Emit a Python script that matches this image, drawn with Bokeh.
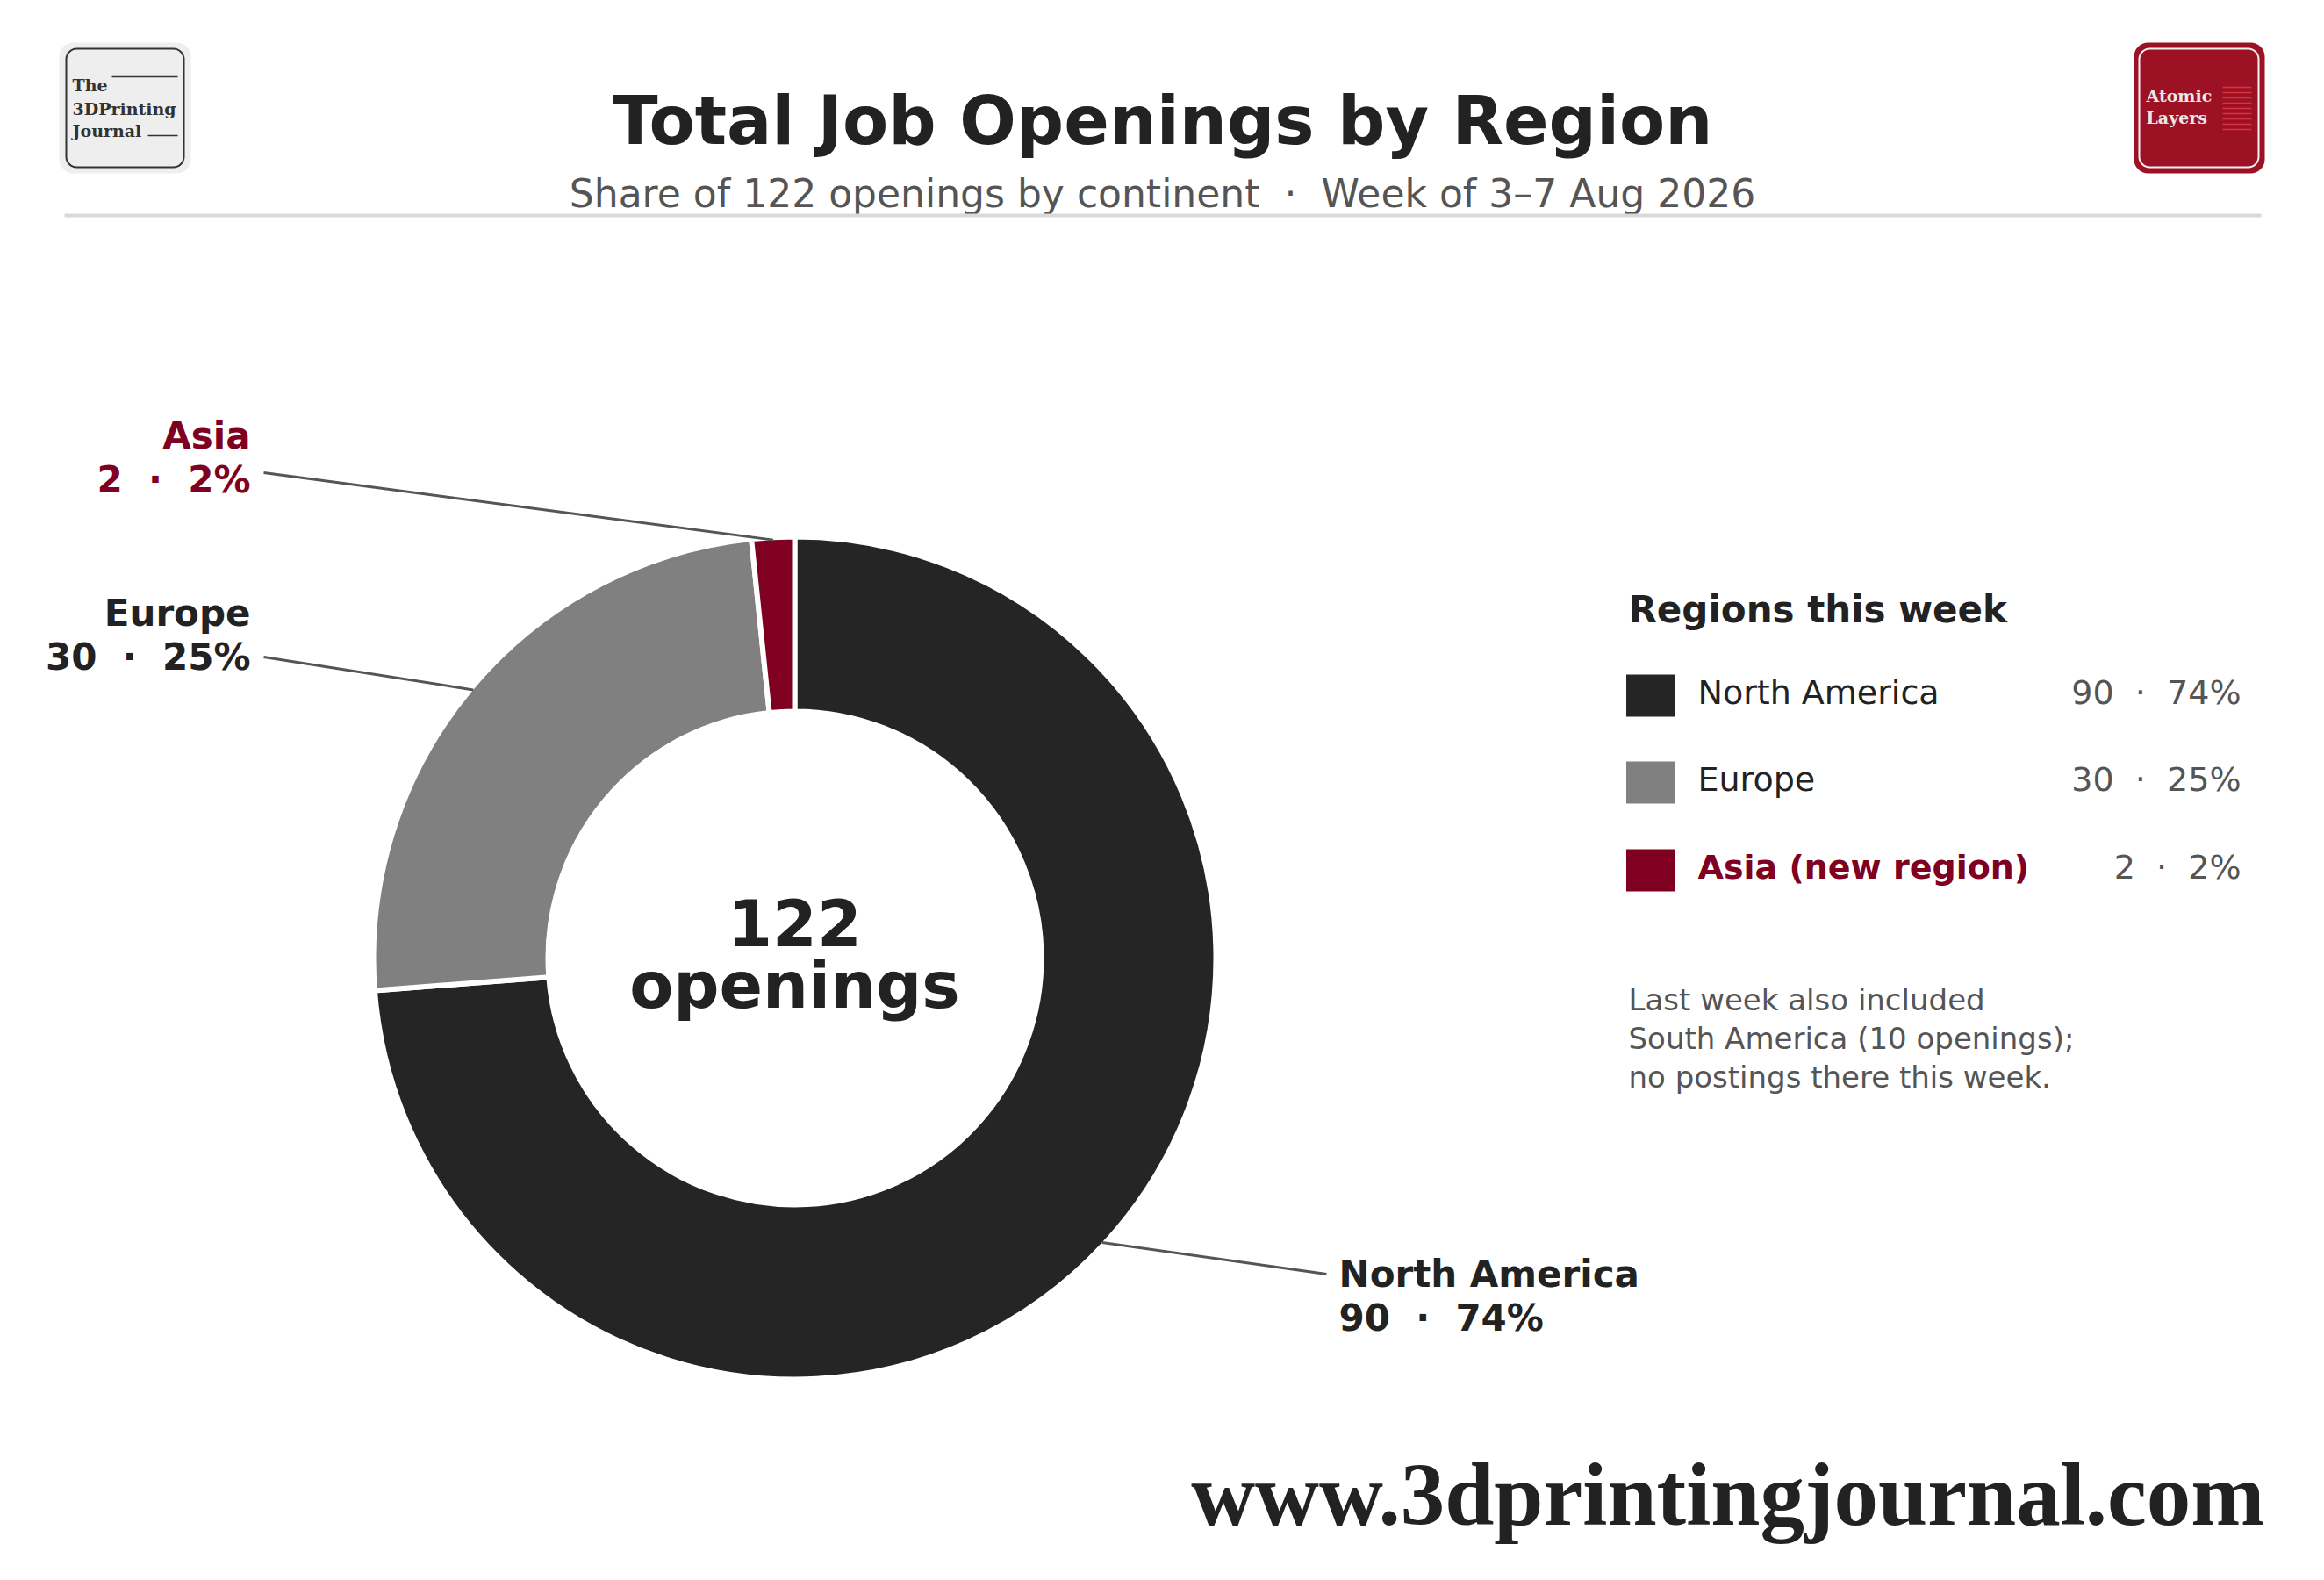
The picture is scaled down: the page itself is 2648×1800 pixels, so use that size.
import math

from bokeh.plotting import figure
from bokeh.models import Range1d, ColumnDataSource
from bokeh.core.properties import value
from bokeh.embed import file_html
from bokeh.resources import INLINE

# data
regions = ["North America", "Europe", "Asia"]
openings = [90, 30, 2]
legend_names = ["North America", "Europe", "Asia (new region)"]
region_colors = ["#252525", "#808080", "#7f0020"]

title_text = "Total Job Openings by Region"
subtitle_text = "Share of 122 openings by continent \u00a0·\u00a0 Week of 3–7 Aug 2026"
legend_title = "Regions this week"
note_lines = ["Last week also included",
              "South America (10 openings);",
              "no postings there this week."]
site_url = "www.3dprintingjournal.com"

# layout (page pixels, y grows downward)
W, H = 2632, 1784
CX, CY = 905, 1091
R_OUT, R_IN = 480, 281
label_anchor = {"North America": (1511, 1451), "Europe": (300, 748), "Asia": (300, 538)}

SANS = value("DejaVu Sans")
SERIF = value("DejaVu Serif")
NBSP2 = "\u00a0\u00a0"


def Y(py):
    return -py


def TY(baseline, size, k=0.35):
    # text is placed lower than the given alphabetic baseline, pull it back up
    return -(baseline - k * size)


p = figure(width=W, height=H, x_range=Range1d(0, W), y_range=Range1d(-H, 0),
           output_backend="svg", toolbar_location=None,
           x_axis_location=None, y_axis_location=None, min_border=0)
p.outline_line_color = None
p.grid.visible = False
p.background_fill_color = "white"
p.border_fill_color = "white"


def label(x, y, text, size, color="#222222", bold=False, align="left", font=SANS, k=0.35):
    p.text(x=[x], y=[TY(y, size, k)], text=[text], text_align=align, text_baseline="alphabetic",
           text_font=font, text_font_style="bold" if bold else "normal",
           text_font_size=value(f"{size}px"), text_color=color)


# header
label(1324, 164, title_text, 76, bold=True, align="center")
label(1324, 235, subtitle_text, 44, color="#555555", align="center")
p.segment(x0=[73], y0=[Y(245)], x1=[2576], y1=[Y(245)], line_color="#d9d9d9", line_width=4)

# left logo
p.quad(left=[67], right=[217], top=[Y(48)], bottom=[Y(197)], fill_color="#eeeeee",
       line_color=None, border_radius=16)
p.quad(left=[75], right=[209], top=[Y(55)], bottom=[Y(190)], fill_color=None,
       line_color="#333333", line_width=2, border_radius=12)
for txt, by in zip(["The", "3DPrinting", "Journal"], [103, 130, 155]):
    label(82, by, txt, 19, color="#333333", bold=True, font=SERIF)
p.segment(x0=[127, 168], y0=[Y(87), Y(154)], x1=[202, 202], y1=[Y(87), Y(154)],
          line_color="#333333", line_width=1.5)

# right logo
p.quad(left=[2431], right=[2580], top=[Y(48)], bottom=[Y(197)], fill_color="#9c1224",
       line_color=None, border_radius=16)
p.quad(left=[2437], right=[2573], top=[Y(55)], bottom=[Y(190)], fill_color=None,
       line_color="#f2f2f2", line_width=2, border_radius=12)
for txt, by in zip(["Atomic", "Layers"], [115, 140]):
    label(2445, by, txt, 19, color="#e8e8e8", bold=True, font=SERIF)
bar_y = [99 + 6 * k for k in range(9)]
p.segment(x0=[2532] * 9, y0=[Y(v) for v in bar_y], x1=[2565] * 9, y1=[Y(v) for v in bar_y],
          line_color="#d8333f", line_width=1.5)

# donut
total = sum(openings)
cum = [sum(openings[:i]) for i in range(len(openings) + 1)]
start_cw = [cum[i] / total * 2 * math.pi for i in range(len(openings))]
end_cw = [cum[i + 1] / total * 2 * math.pi for i in range(len(openings))]
src = ColumnDataSource(dict(
    start=[math.pi / 2 - e for e in end_cw],
    end=[math.pi / 2 - s for s in start_cw],
    color=region_colors,
))
p.annular_wedge(x=CX, y=Y(CY), inner_radius=R_IN, outer_radius=R_OUT,
                start_angle="start", end_angle="end", direction="anticlock",
                fill_color="color", line_color="white", line_width=6, source=src)

label(CX, 1076, str(total), 73, bold=True, align="center")
label(CX, 1148, "openings", 73, bold=True, align="center")

# callouts
pcts = [round(v / total * 100) for v in openings]
for name, v, pc, a0, a1 in zip(regions, openings, pcts, start_cw, end_cw):
    mid = (a0 + a1) / 2
    sx = CX + (R_OUT - 3) * math.sin(mid)
    sy = CY - (R_OUT - 3) * math.cos(mid)
    ax, ay = label_anchor[name]
    p.segment(x0=[sx], y0=[Y(sy)], x1=[ax], y1=[Y(ay)], line_color="#555555", line_width=3)
    txt_col = "#7f0020" if name == "Asia" else "#222222"
    if ax > CX:
        tx, align, b1 = ax + 14, "left", ay + 15
    else:
        tx, align, b1 = ax - 15, "right", ay - 27 if name == "Asia" else ay - 35
    label(tx, b1, name, 42, color=txt_col, bold=True, align=align)
    label(tx, b1 + 50, f"{v}{NBSP2}·{NBSP2}{pc}%", 42, color=txt_col, bold=True, align=align)

# legend
label(1855, 709, legend_title, 42, bold=True)
row_mid = [792, 891, 991]
p.rect(x=[1880] * 3, y=[Y(r) for r in row_mid], width=55, height=48,
       fill_color=region_colors, line_color=None)
for nm, v, pc, rm in zip(legend_names, openings, pcts, row_mid):
    is_new = nm.startswith("Asia")
    label(1934, rm + 10, nm, 38, color="#7f0020" if is_new else "#222222", bold=is_new)
    label(2553, rm + 10, f"{v}{NBSP2}·{NBSP2}{pc}%", 38, color="#555555", align="right")

for txt, by in zip(note_lines, [1150, 1194, 1238]):
    label(1855, by, txt, 34, color="#555555")

# footer
label(2580, 1737, site_url, 101, bold=True, align="right", font=value("Liberation Serif"), k=0.34)

open("out.html", "w").write(file_html(p, INLINE))
